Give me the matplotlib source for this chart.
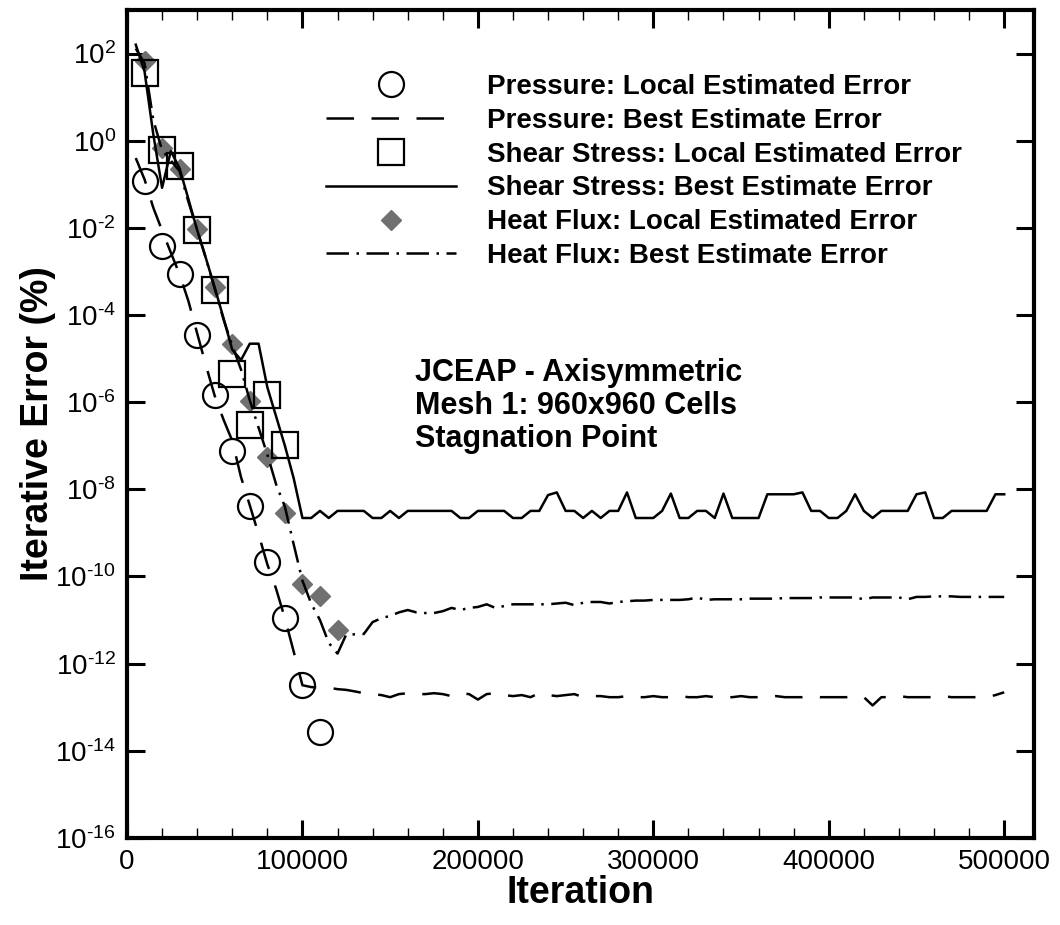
import numpy as np
import matplotlib
matplotlib.use('Agg')
import matplotlib.pyplot as plt
from matplotlib.ticker import FixedLocator, MultipleLocator, FuncFormatter, NullLocator
from matplotlib.lines import Line2D

plt.rcParams['font.family'] = ['Liberation Sans', 'DejaVu Sans']
plt.rcParams['mathtext.fontset'] = 'custom'
plt.rcParams['mathtext.rm'] = 'Liberation Sans'
plt.rcParams['mathtext.it'] = 'Liberation Sans:italic'
plt.rcParams['mathtext.bf'] = 'Liberation Sans:bold'

# local error markers, every 10000 iterations
marker_iters = [10000, 20000, 30000, 40000, 50000, 60000, 70000, 80000, 90000, 100000, 110000, 120000]
pressure_local = [1.2e-1, 3.9e-3, 8.9e-4, 3.4e-5, 1.5e-6, 7.6e-8, 4.2e-9, 2.1e-10, 1.1e-11, 3.2e-13, 2.7e-14]
shear_local = [35, 0.6, 0.26, 8.9e-3, 3.8e-4, 4.4e-6, 3.0e-7, 1.5e-6, 1.05e-7]
heat_local = [66, 0.68, 0.23, 9.5e-3, 4.3e-4, 2.2e-5, 1.05e-6, 5.5e-8, 2.9e-9, 6.6e-11, 3.5e-11, 5.9e-12]

# best estimate errors, every 5000 iterations (5000 .. 500000)
best_iters = np.arange(5000, 500001, 5000)
pressure_best = [
    0.4, 0.13, 0.029, 0.0087, 0.0027, 8.5e-4, 2.1e-4, 3.8e-5, 7e-6, 1.4e-6,
    4e-7, 1.3e-7, 1.9e-8, 4.3e-9, 9.3e-10, 1.9e-10, 5.2e-11, 1.1e-11, 1.9e-12, 3.2e-13,
    2.9e-13, 2.8e-13, 2.8e-13, 2.6e-13, 2.5e-13, 2.3e-13, 2.1e-13, 2.0e-13, 1.9e-13, 1.7e-13,
    2.0e-13, 2.1e-13, 2.0e-13, 2.0e-13, 2.1e-13, 2.0e-13, 1.8e-13, 2.1e-13, 2.0e-13, 1.5e-13,
    2.0e-13, 2.1e-13, 1.9e-13, 1.8e-13, 1.9e-13, 1.7e-13, 2.1e-13, 1.9e-13, 1.8e-13, 1.9e-13,
    2.0e-13, 1.7e-13, 1.8e-13, 1.8e-13, 1.7e-13, 1.7e-13, 1.8e-13, 1.7e-13, 1.7e-13, 1.8e-13,
    1.7e-13, 1.7e-13, 1.8e-13, 1.7e-13, 1.7e-13, 1.8e-13, 1.7e-13, 1.7e-13, 1.7e-13, 1.8e-13,
    1.7e-13, 1.7e-13, 1.7e-13, 1.8e-13, 1.7e-13, 1.7e-13, 1.7e-13, 1.8e-13, 1.7e-13, 1.7e-13,
    1.7e-13, 1.7e-13, 1.8e-13, 1.7e-13, 1.1e-13, 1.7e-13, 1.7e-13, 1.8e-13, 1.7e-13, 1.7e-13,
    1.7e-13, 1.7e-13, 1.8e-13, 1.7e-13, 1.7e-13, 1.7e-13, 1.7e-13, 1.7e-13, 1.9e-13, 2.2e-13,
]
shear_best = [
    160, 39, 1.4, 0.083, 0.58, 0.23, 0.046, 0.0089, 0.002, 4.3e-4,
    8.5e-5, 1.6e-5, 9.3e-6, 2.2e-5, 2.2e-5, 2.2e-6, 4.7e-7, 1.0e-7, 1.8e-8, 2.2e-9,
    2.2e-9, 3.2e-9, 2.2e-9, 3.2e-9, 3.2e-9, 3.2e-9, 3.2e-9, 2.2e-9, 2.2e-9, 3.2e-9,
    2.2e-9, 3.2e-9, 3.2e-9, 3.2e-9, 3.2e-9, 3.2e-9, 3.2e-9, 2.2e-9, 2.2e-9, 3.2e-9,
    3.2e-9, 3.2e-9, 3.2e-9, 2.2e-9, 2.2e-9, 3.2e-9, 3.2e-9, 7.4e-9, 8.5e-9, 3.2e-9,
    3.2e-9, 2.2e-9, 3.2e-9, 2.2e-9, 3.2e-9, 3.2e-9, 8.5e-9, 2.2e-9, 2.2e-9, 2.2e-9,
    3.2e-9, 8.0e-9, 2.2e-9, 2.2e-9, 3.2e-9, 3.2e-9, 2.2e-9, 8.0e-9, 2.2e-9, 2.2e-9,
    2.2e-9, 2.2e-9, 7.7e-9, 7.7e-9, 7.7e-9, 7.7e-9, 8.5e-9, 3.2e-9, 3.2e-9, 2.2e-9,
    2.2e-9, 3.2e-9, 7.7e-9, 3.2e-9, 2.2e-9, 3.2e-9, 3.2e-9, 3.2e-9, 3.2e-9, 7.7e-9,
    8.5e-9, 2.2e-9, 2.2e-9, 3.2e-9, 3.2e-9, 3.2e-9, 3.2e-9, 3.2e-9, 7.7e-9, 7.7e-9,
]
heat_best = [
    130, 60, 3.0, 0.6, 0.35, 0.2, 0.04, 0.009, 0.002, 4e-4,
    8e-5, 2e-5, 5.6e-6, 1.1e-6, 2.6e-7, 6.3e-8, 1.3e-8, 4e-9, 5.5e-10, 8e-11,
    2.4e-11, 1e-11, 3e-12, 1.7e-12, 4.7e-12, 4.7e-12, 4.8e-12, 9e-12, 1.1e-11, 1.25e-11,
    1.5e-11, 1.7e-11, 1.5e-11, 1.45e-11, 1.45e-11, 1.6e-11, 1.9e-11, 1.7e-11, 1.9e-11, 2.0e-11,
    2.3e-11, 1.9e-11, 2.1e-11, 2.3e-11, 2.3e-11, 2.3e-11, 2.3e-11, 2.3e-11, 2.4e-11, 2.5e-11,
    2.2e-11, 2.5e-11, 2.6e-11, 2.6e-11, 2.4e-11, 2.6e-11, 2.7e-11, 2.8e-11, 2.8e-11, 2.9e-11,
    2.9e-11, 2.9e-11, 2.9e-11, 3.0e-11, 3.3e-11, 2.9e-11, 3.0e-11, 3.0e-11, 3.0e-11, 3.0e-11,
    3.1e-11, 3.1e-11, 3.1e-11, 3.1e-11, 3.2e-11, 3.2e-11, 3.2e-11, 3.2e-11, 3.3e-11, 3.3e-11,
    3.3e-11, 3.3e-11, 3.3e-11, 3.0e-11, 3.3e-11, 3.3e-11, 3.3e-11, 3.3e-11, 3.0e-11, 3.4e-11,
    3.4e-11, 3.5e-11, 3.5e-11, 3.5e-11, 3.4e-11, 3.4e-11, 3.4e-11, 3.4e-11, 3.4e-11, 3.4e-11,
]

labels = ['Pressure: Local Estimated Error', 'Pressure: Best Estimate Error',
          'Shear Stress: Local Estimated Error', 'Shear Stress: Best Estimate Error',
          'Heat Flux: Local Estimated Error', 'Heat Flux: Best Estimate Error']

gray = '#707070'
lw = 1.8
dash_p = (11, 7)
dash_h = (9, 3, 1, 3)


def pow_label(v, pos):
    # plain hyphen in the exponent like the original, not a wide minus sign
    k = int(round(np.log10(v)))
    sign = '\u2010' if k < 0 else ''
    return r'$10^{%s%d}$' % (sign, abs(k))


fig = plt.figure(figsize=(10.6, 9.25), dpi=100)
ax = fig.add_axes([0.1198, 0.0941, 0.8557, 0.8951])

# markers first, lines on top
ax.plot(marker_iters[:len(heat_local)], heat_local, ls='none', marker='D', ms=10,
        mfc=gray, mec=gray)
ax.plot(marker_iters[:len(pressure_local)], pressure_local, ls='none', marker='o', ms=18,
        mfc='none', mec='k', mew=1.6)
ax.plot(marker_iters[:len(shear_local)], shear_local, ls='none', marker='s', ms=19,
        mfc='none', mec='k', mew=1.6)

ax.plot(best_iters, pressure_best, color='k', lw=lw, dashes=dash_p)
ax.plot(best_iters, shear_best, color='k', lw=lw)
ax.plot(best_iters, heat_best, color='k', lw=lw, dashes=dash_h)

ax.set_yscale('log')
ax.set_xlim(0, 517000)
ax.set_ylim(1e-16, 1e3)

ax.xaxis.set_major_locator(MultipleLocator(100000))
ax.xaxis.set_minor_locator(MultipleLocator(20000))
ax.xaxis.set_major_formatter(FuncFormatter(lambda v, p: '%d' % v))
ax.yaxis.set_major_locator(FixedLocator([10.0 ** k for k in range(-16, 3, 2)]))
ax.yaxis.set_minor_locator(NullLocator())
ax.yaxis.set_major_formatter(FuncFormatter(pow_label))

ax.tick_params(which='major', direction='in', length=13, width=2.2, top=True, right=True,
               labelsize=20, pad=8)
ax.tick_params(which='minor', direction='in', length=7, width=1, top=True, right=True)
for s in ax.spines.values():
    s.set_linewidth(3)

ax.set_xlabel('Iteration', fontsize=27, fontweight='bold', labelpad=0)
ax.set_ylabel('Iterative Error (%)', fontsize=27, fontweight='bold', labelpad=-1)

handles = [
    Line2D([], [], ls='none', marker='o', ms=18, mfc='none', mec='k', mew=1.6),
    Line2D([], [], color='k', lw=lw, dashes=dash_p),
    Line2D([], [], ls='none', marker='s', ms=19, mfc='none', mec='k', mew=1.6),
    Line2D([], [], color='k', lw=lw),
    Line2D([], [], ls='none', marker='D', ms=10, mfc=gray, mec=gray),
    Line2D([], [], color='k', lw=lw, dashes=dash_h),
]
ax.legend(handles, labels, loc='upper left', bbox_to_anchor=(0.219, 0.9225), frameon=False,
          prop={'weight': 'bold', 'size': 20}, handlelength=4.7, handletextpad=1.1,
          labelspacing=0.28, borderpad=0, borderaxespad=0)

ax.text(0.3175, 0.58, 'JCEAP - Axisymmetric\nMesh 1: 960x960 Cells\nStagnation Point',
        transform=ax.transAxes, fontsize=22, fontweight='bold', va='top', ha='left',
        linespacing=1.13)

fig.savefig('out.png', dpi=100)
